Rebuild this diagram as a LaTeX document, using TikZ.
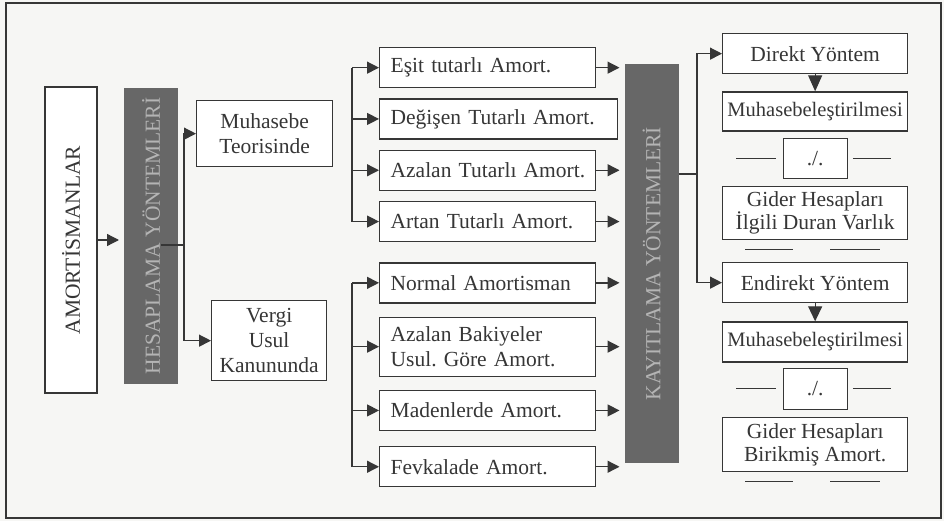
\documentclass[tikz,border=0pt]{standalone}
\usepackage{fontspec}
\setmainfont{Liberation Serif}
\usetikzlibrary{arrows.meta,positioning,calc}
\definecolor{ink}{HTML}{363636}
\definecolor{barfill}{HTML}{676767}
\definecolor{bartext}{HTML}{B4B4B4}
\definecolor{paper}{HTML}{F6F6F4}

\begin{document}
\begin{tikzpicture}[x=1pt, y=-1pt, node distance=10pt, >={Triangle[length=12pt,width=12pt]},
    font=\fontsize{21.5}{25}\selectfont]
\tikzset{
block/.style     = {draw=ink, line width=1.3pt, fill=white, inner sep=0pt, align=center, text=ink},
leftblock/.style = {block, anchor=north west, minimum height=40pt, text width=194pt, inner xsep=11pt, align=left},
wideblock/.style = {leftblock, text width=216pt},
rightblock/.style= {block, anchor=north west, minimum width=185pt, minimum height=40pt},
slashbox/.style  = {block, minimum width=64pt, minimum height=40pt},
darkbar/.style   = {draw=barfill, fill=barfill, line width=1pt, inner sep=0pt, text=bartext, minimum width=53pt},
link/.style      = {draw=ink, line width=1.3pt},
}
    % Frame
    \fill[paper] (0,0) rectangle (944,521);
    \useasboundingbox (0,0) rectangle (944,521);
    \draw[ink, line width=2pt] (6,3) rectangle (941,518);

    % Left part
    \node [block, minimum width=52pt, minimum height=306pt] (amort) at (71,240) {\rotatebox{90}{AMORTİSMANLAR}};
    \node [darkbar, minimum height=294pt] (hesap) at (151,236) {\rotatebox{90}{HESAPLAMA YÖNTEMLERİ}};
    \node [block, anchor=north west, minimum width=136pt, minimum height=66pt] (muhteori) at (196,100) {Muhasebe\\Teorisinde};
    \node [block, anchor=north west, minimum width=115pt, minimum height=80pt] (vuk) at (211,300) {Vergi\\Usul\\Kanununda};

    % Middle column
    \node [leftblock]                                                 (esit)    at (379,47) {Eşit tutarlı Amort.};
    \node [wideblock, below=10pt of esit.south west, anchor=north west]   (degisen) {Değişen Tutarlı Amort.};
    \node [leftblock, below=10pt of degisen.south west, anchor=north west] (azalan)  {\mbox{Azalan Tutarlı Amort.}};
    \node [leftblock, below=10pt of azalan.south west, anchor=north west]  (artan)   {Artan Tutarlı Amort.};
    \node [leftblock, below=20pt of artan.south west, anchor=north west]   (normal)  {Normal Amortisman};
    \node [leftblock, below=13pt of normal.south west, anchor=north west, minimum height=59pt] (bakiye) {Azalan Bakiyeler\\Usul.\ Göre Amort.};
    \node [leftblock, below=13pt of bakiye.south west, anchor=north west]  (maden)   {Madenlerde Amort.};
    \node [leftblock, below=15pt of maden.south west, anchor=north west]   (fevk)    {Fevkalade Amort.};

    \node [darkbar, minimum height=397pt] (kayit) at (651.5,263.5) {\rotatebox{90}{KAYITLAMA YÖNTEMLERİ}};

    % Right column
    \node [rightblock] (direkt) at (722,33) {Direkt Yöntem};
    \node [rightblock, below=17pt of direkt.south west, anchor=north west, minimum height=39pt,
           font=\fontsize{20.5}{23}\selectfont] (muhdir) {Muhasebeleştirilmesi};
    \node [slashbox, below=6pt of muhdir] (slashdir) {./.};
    \node [block, below=7pt of slashdir, minimum width=185pt, minimum height=53pt,
           font=\fontsize{21.5}{23}\selectfont] (giderdir) {Gider Hesapları\\İlgili Duran Varlık};

    \node [rightblock] (endirekt) at (722,262) {Endirekt Yöntem};
    \node [rightblock, below=18pt of endirekt.south west, anchor=north west,
           font=\fontsize{20.5}{23}\selectfont] (muhend) {Muhasebeleştirilmesi};
    \node [slashbox, below=5pt of muhend, minimum height=41pt] (slashend) {./.};
    \node [block, below=7pt of slashend, minimum width=185pt, minimum height=54pt,
           font=\fontsize{21.5}{23}\selectfont] (giderend) {Gider Hesapları\\Birikmiş Amort.};

    % Split points
    \coordinate (hsplit) at (184,245);
    \coordinate (ubr)    at (352,0);
    \coordinate (ksplit) at (697,174);

    % Edges
    \draw [link,->] (amort.east) -- ([xshift=-5pt]amort.east -| hesap.west);
    \draw [link] ($(hesap.east)+(-17,9)$) -- (hsplit);
    \draw [link,->] (hsplit) |- (muhteori.west);
    \draw [link,->] (hsplit) |- (vuk.west);

    \draw [link] (ubr |- esit.west) -- (ubr |- artan.west);
    \draw [link] (ubr |- normal.west) -- (ubr |- fevk.west);
    \foreach \n in {esit,degisen,azalan,artan,normal,bakiye,maden,fevk}
        \draw [link,->] (ubr |- \n.west) -- (\n.west);
    \foreach \n in {esit,azalan,artan,normal,bakiye,maden,fevk}
        \draw [link,->] (\n.east) -- ([xshift=-5pt]kayit.west |- \n.east);

    \draw [link] (kayit.east |- ksplit) -- (ksplit);
    \draw [link,->] (ksplit) |- (direkt.west);
    \draw [link,->] (ksplit) |- (endirekt.west);

    \draw [link,-{Triangle[length=16pt,width=14pt]}] (direkt.south) -- (muhdir.north);
    \draw [link,-{Triangle[length=15pt,width=14pt]}] (endirekt.south) -- (muhend.north);

    % Dashes round ./.
    \foreach \s in {slashdir,slashend} {
        \draw [link] ([xshift=-7pt]\s.west) -- ++(-40,0);
        \draw [link] ([xshift=5pt]\s.east) -- ++(38,0);
    }
    \foreach \g in {giderdir,giderend} {
        \draw [link] ($(\g.south)+(-70,9)$) -- ++(48,0);
        \draw [link] ($(\g.south)+(15,9)$) -- ++(50,0);
    }

\end{tikzpicture}
\end{document}
